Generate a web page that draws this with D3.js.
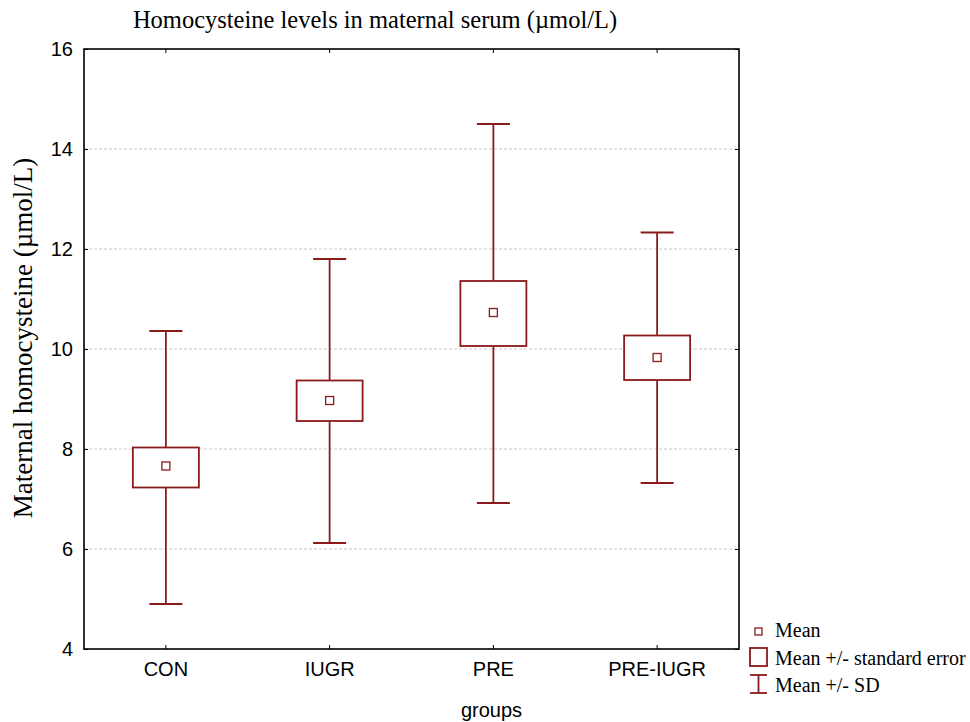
<!DOCTYPE html>
<html><head><meta charset="utf-8">
<script src="https://cdn.jsdelivr.net/npm/d3@7"></script>
<style>body{margin:0;background:#fff}</style>
</head><body>
<svg id="c" width="970" height="722"></svg>
<script>
const groups = ["CON","IUGR","PRE","PRE-IUGR"];
const means = [7.66, 8.97, 10.73, 9.83];
const seLow = [7.23, 8.56, 10.06, 9.38];
const seHigh = [8.03, 9.37, 11.36, 10.27];
const sdLow = [4.90, 6.12, 6.92, 7.32];
const sdHigh = [10.36, 11.80, 14.50, 12.33];
const yTicks = [4, 6, 8, 10, 12, 14, 16];
const legendLabels = ["Mean", "Mean +/- standard error", "Mean +/- SD"];

const col = "#8b1a1a";
const svg = d3.select("#c");
const L = 84, R = 739, T = 49, B = 649;
const x = d3.scaleBand().domain(groups).range([L, R]);
const y = d3.scaleLinear().domain([4, 16]).range([B, T]);

// grid
svg.append("g").selectAll("line").data(yTicks.filter(v => v > 4 && v < 16)).join("line")
  .attr("x1", L).attr("x2", R).attr("y1", d => y(d)).attr("y2", d => y(d))
  .attr("stroke", "#c8c8c8").attr("stroke-width", 1).attr("stroke-dasharray", "3,2");

// axes
const ax = svg.append("g").attr("font-family", "Liberation Sans, Arial, sans-serif");
ax.append("g").attr("transform", `translate(${L},0)`)
  .call(d3.axisLeft(y).tickValues(yTicks).tickSize(-4).tickPadding(11))
  .call(g => { g.select(".domain").remove(); g.selectAll("text").attr("fill", "#000").attr("font-size", 20).attr("font-family", "Liberation Sans, Arial, sans-serif"); g.selectAll("line").attr("stroke", "#000"); });
ax.append("g").attr("transform", `translate(${R},0)`)
  .call(d3.axisRight(y).tickValues(yTicks).tickSize(-4).tickFormat(""))
  .call(g => { g.select(".domain").remove(); g.selectAll("line").attr("stroke", "#000"); });
ax.append("g").attr("transform", `translate(0,${B})`)
  .call(d3.axisBottom(x).tickSize(-4).tickPadding(13))
  .call(g => { g.select(".domain").remove(); g.selectAll("text").attr("fill", "#000").attr("font-size", 20).attr("font-family", "Liberation Sans, Arial, sans-serif"); g.selectAll("line").attr("stroke", "#000"); });
ax.append("g").attr("transform", `translate(0,${T})`)
  .call(d3.axisTop(x).tickSize(-4).tickFormat(""))
  .call(g => { g.select(".domain").remove(); g.selectAll("line").attr("stroke", "#000"); });

svg.append("rect").attr("x", L).attr("y", T).attr("width", R - L).attr("height", B - T)
  .attr("fill", "none").attr("stroke", "#000").attr("stroke-width", 1.6);

// marks
const boxW = 66, capW = 33, mk = 8;
const g = svg.append("g").attr("stroke", col).attr("fill", "none").attr("stroke-width", 1.8);
groups.forEach((gr, i) => {
  const cx = x(gr) + x.bandwidth() / 2;
  g.append("line").attr("x1", cx).attr("x2", cx).attr("y1", y(sdHigh[i])).attr("y2", y(seHigh[i]));
  g.append("line").attr("x1", cx).attr("x2", cx).attr("y1", y(seLow[i])).attr("y2", y(sdLow[i]));
  g.append("line").attr("x1", cx - capW / 2).attr("x2", cx + capW / 2).attr("y1", y(sdHigh[i])).attr("y2", y(sdHigh[i]));
  g.append("line").attr("x1", cx - capW / 2).attr("x2", cx + capW / 2).attr("y1", y(sdLow[i])).attr("y2", y(sdLow[i]));
  g.append("rect").attr("x", cx - boxW / 2).attr("y", y(seHigh[i])).attr("width", boxW).attr("height", y(seLow[i]) - y(seHigh[i])).attr("fill", "#fff");
  g.append("rect").attr("x", cx - mk / 2).attr("y", y(means[i]) - mk / 2).attr("width", mk).attr("height", mk).attr("stroke-width", 1.3);
});

// titles
svg.append("text").attr("x", 375).attr("y", 28).attr("text-anchor", "middle")
  .attr("font-family", "Liberation Serif, Times New Roman, serif").attr("font-size", 24.5)
  .text("Homocysteine levels in maternal serum (µmol/L)");
svg.append("text").attr("transform", `translate(32,338) rotate(-90)`).attr("text-anchor", "middle")
  .attr("font-family", "Liberation Serif, Times New Roman, serif").attr("font-size", 27)
  .text("Maternal homocysteine (µmol/L)");
svg.append("text").attr("x", (L + R) / 2 + 80).attr("y", 717).attr("text-anchor", "middle")
  .attr("font-family", "Liberation Sans, Arial, sans-serif").attr("font-size", 20).text("groups");

// legend
const lg = svg.append("g").attr("font-family", "Liberation Serif, Times New Roman, serif").attr("font-size", 20);
lg.append("rect").attr("x", 755).attr("y", 628).attr("width", 7).attr("height", 7).attr("fill", "none").attr("stroke", col).attr("stroke-width", 1.3);
lg.append("rect").attr("x", 750).attr("y", 648).attr("width", 17).attr("height", 18).attr("fill", "none").attr("stroke", col).attr("stroke-width", 1.8);
const sdg = lg.append("g").attr("stroke", col).attr("stroke-width", 1.8);
sdg.append("line").attr("x1", 750).attr("x2", 767).attr("y1", 675).attr("y2", 675);
sdg.append("line").attr("x1", 750).attr("x2", 767).attr("y1", 693).attr("y2", 693);
sdg.append("line").attr("x1", 758.5).attr("x2", 758.5).attr("y1", 675).attr("y2", 693);
legendLabels.forEach((t, i) => {
  lg.append("text").attr("x", 775).attr("y", 637 + i * 27.5).text(t);
});
</script>
</body></html>
